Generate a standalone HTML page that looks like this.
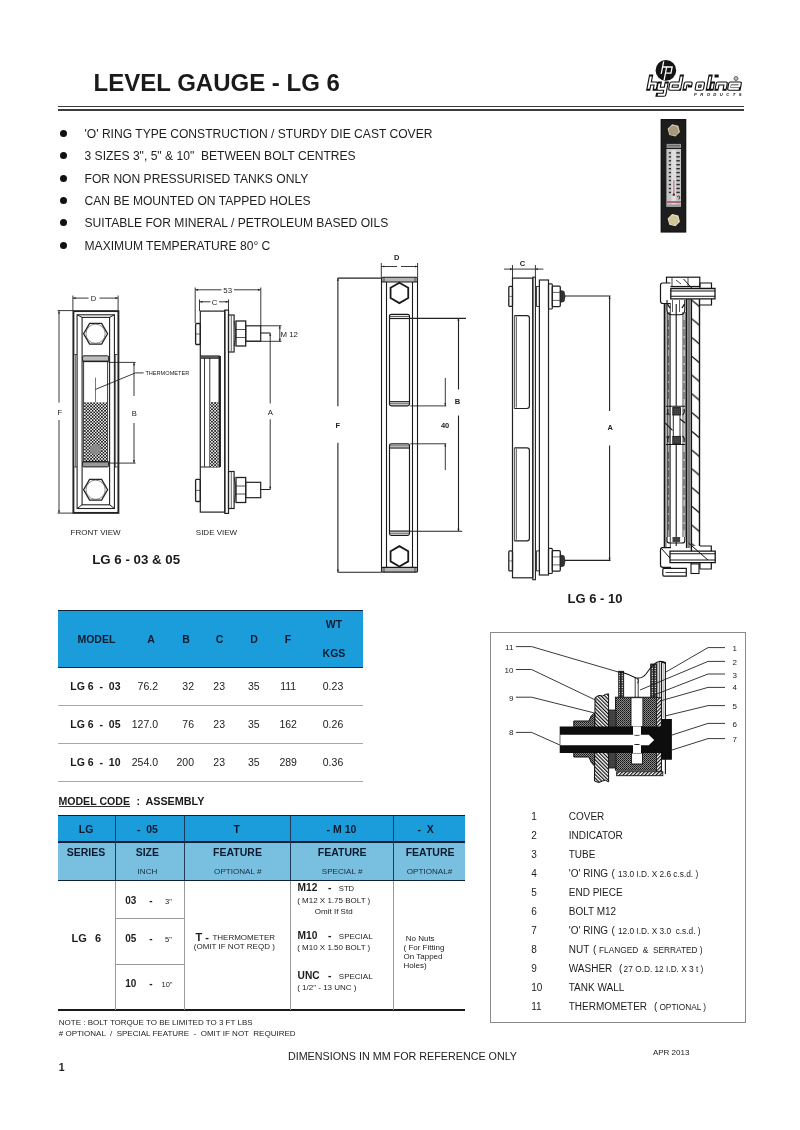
<!DOCTYPE html>
<html><head><meta charset="utf-8"><title>Level Gauge - LG 6</title>
<style>
html,body{margin:0;padding:0;background:#fff;}
#pg{position:relative;will-change:transform;width:800px;height:1130px;overflow:hidden;background:#fff;font-family:"Liberation Sans",sans-serif;}
.t{position:absolute;white-space:pre;font-family:"Liberation Sans",sans-serif;}
.r{position:absolute;}
svg{position:absolute;left:0;top:0;}
</style></head><body><div id="pg">
<div class="t" style="left:93.60px;top:70.98px;font-size:24px;line-height:24px;font-weight:700;color:#1a1a1a;">LEVEL GAUGE - LG 6</div>
<div class="r" style="left:57.80px;top:106.00px;width:686.20px;height:1.20px;background:#3c3c3c;"></div>
<div class="r" style="left:57.80px;top:109.00px;width:686.20px;height:2.00px;background:#3c3c3c;"></div>
<div class="r" style="left:60px;top:129.90px;width:7px;height:7px;border-radius:50%;background:#111"></div>
<div class="t" style="left:84.50px;top:127.76px;font-size:12.1px;line-height:12.1px;font-weight:400;color:#1e1e1e;">'O' RING TYPE CONSTRUCTION / STURDY DIE CAST COVER</div>
<div class="r" style="left:60px;top:152.28px;width:7px;height:7px;border-radius:50%;background:#111"></div>
<div class="t" style="left:84.50px;top:150.14px;font-size:12.1px;line-height:12.1px;font-weight:400;color:#1e1e1e;">3 SIZES 3", 5" &amp; 10"  BETWEEN BOLT CENTRES</div>
<div class="r" style="left:60px;top:174.66px;width:7px;height:7px;border-radius:50%;background:#111"></div>
<div class="t" style="left:84.50px;top:172.52px;font-size:12.1px;line-height:12.1px;font-weight:400;color:#1e1e1e;">FOR NON PRESSURISED TANKS ONLY</div>
<div class="r" style="left:60px;top:197.04px;width:7px;height:7px;border-radius:50%;background:#111"></div>
<div class="t" style="left:84.50px;top:194.90px;font-size:12.1px;line-height:12.1px;font-weight:400;color:#1e1e1e;">CAN BE MOUNTED ON TAPPED HOLES</div>
<div class="r" style="left:60px;top:219.42px;width:7px;height:7px;border-radius:50%;background:#111"></div>
<div class="t" style="left:84.50px;top:217.28px;font-size:12.1px;line-height:12.1px;font-weight:400;color:#1e1e1e;">SUITABLE FOR MINERAL / PETROLEUM BASED OILS</div>
<div class="r" style="left:60px;top:241.80px;width:7px;height:7px;border-radius:50%;background:#111"></div>
<div class="t" style="left:84.50px;top:239.66px;font-size:12.1px;line-height:12.1px;font-weight:400;color:#1e1e1e;">MAXIMUM TEMPERATURE 80° C</div>
<div class="t" style="left:70.60px;top:528.83px;font-size:8px;line-height:8px;font-weight:400;color:#222;">FRONT VIEW</div>
<div class="t" style="left:195.80px;top:529.23px;font-size:8px;line-height:8px;font-weight:400;color:#222;">SIDE VIEW</div>
<div class="t" style="left:92.20px;top:552.74px;font-size:13.3px;line-height:13.3px;font-weight:700;color:#1a1a1a;">LG 6 - 03 &amp; 05</div>
<div class="t" style="left:567.50px;top:591.50px;font-size:13px;line-height:13px;font-weight:700;color:#1a1a1a;">LG 6 - 10</div>
<div class="t" style="left:287.90px;top:1050.90px;font-size:10.75px;line-height:10.75px;font-weight:400;color:#222;">DIMENSIONS IN MM FOR REFERENCE ONLY</div>
<div class="t" style="left:652.90px;top:1048.53px;font-size:8px;line-height:8px;font-weight:400;color:#222;">APR 2013</div>
<div class="t" style="left:58.70px;top:1061.61px;font-size:10.5px;line-height:10.5px;font-weight:700;color:#222;">1</div>
<div class="r" style="left:58.00px;top:610.00px;width:305.00px;height:57.50px;background:#1c9ddb;"></div>
<div class="r" style="left:58.00px;top:609.50px;width:305.00px;height:1.50px;background:#10223a;"></div>
<div class="r" style="left:58.00px;top:666.50px;width:305.00px;height:1.50px;background:#10223a;"></div>
<div class="t" style="left:77.40px;top:633.51px;font-size:10.5px;line-height:10.5px;font-weight:700;color:#0c1a2e;">MODEL</div>
<div class="t" style="left:1.00px;width:300px;text-align:center;top:633.51px;font-size:10.5px;line-height:10.5px;font-weight:700;color:#0c1a2e;">A</div>
<div class="t" style="left:36.00px;width:300px;text-align:center;top:633.51px;font-size:10.5px;line-height:10.5px;font-weight:700;color:#0c1a2e;">B</div>
<div class="t" style="left:69.50px;width:300px;text-align:center;top:633.51px;font-size:10.5px;line-height:10.5px;font-weight:700;color:#0c1a2e;">C</div>
<div class="t" style="left:104.00px;width:300px;text-align:center;top:633.51px;font-size:10.5px;line-height:10.5px;font-weight:700;color:#0c1a2e;">D</div>
<div class="t" style="left:138.00px;width:300px;text-align:center;top:633.51px;font-size:10.5px;line-height:10.5px;font-weight:700;color:#0c1a2e;">F</div>
<div class="t" style="left:184.00px;width:300px;text-align:center;top:619.41px;font-size:10.5px;line-height:10.5px;font-weight:700;color:#0c1a2e;">WT</div>
<div class="t" style="left:184.00px;width:300px;text-align:center;top:647.81px;font-size:10.5px;line-height:10.5px;font-weight:700;color:#0c1a2e;">KGS</div>
<div class="t" style="left:70.30px;top:681.41px;font-size:10.5px;line-height:10.5px;font-weight:700;color:#1a1a1a;">LG 6  -  03</div>
<div class="t" style="left:-142.00px;width:300px;text-align:right;top:681.41px;font-size:10.5px;line-height:10.5px;font-weight:400;color:#222;">76.2</div>
<div class="t" style="left:-106.00px;width:300px;text-align:right;top:681.41px;font-size:10.5px;line-height:10.5px;font-weight:400;color:#222;">32</div>
<div class="t" style="left:69.20px;width:300px;text-align:center;top:681.41px;font-size:10.5px;line-height:10.5px;font-weight:400;color:#222;">23</div>
<div class="t" style="left:103.80px;width:300px;text-align:center;top:681.41px;font-size:10.5px;line-height:10.5px;font-weight:400;color:#222;">35</div>
<div class="t" style="left:138.20px;width:300px;text-align:center;top:681.41px;font-size:10.5px;line-height:10.5px;font-weight:400;color:#222;">111</div>
<div class="t" style="left:183.00px;width:300px;text-align:center;top:681.41px;font-size:10.5px;line-height:10.5px;font-weight:400;color:#222;">0.23</div>
<div class="r" style="left:58.00px;top:704.70px;width:305.00px;height:1.00px;background:#a8a8a8;"></div>
<div class="t" style="left:70.30px;top:719.41px;font-size:10.5px;line-height:10.5px;font-weight:700;color:#1a1a1a;">LG 6  -  05</div>
<div class="t" style="left:-142.00px;width:300px;text-align:right;top:719.41px;font-size:10.5px;line-height:10.5px;font-weight:400;color:#222;">127.0</div>
<div class="t" style="left:-106.00px;width:300px;text-align:right;top:719.41px;font-size:10.5px;line-height:10.5px;font-weight:400;color:#222;">76</div>
<div class="t" style="left:69.20px;width:300px;text-align:center;top:719.41px;font-size:10.5px;line-height:10.5px;font-weight:400;color:#222;">23</div>
<div class="t" style="left:103.80px;width:300px;text-align:center;top:719.41px;font-size:10.5px;line-height:10.5px;font-weight:400;color:#222;">35</div>
<div class="t" style="left:138.20px;width:300px;text-align:center;top:719.41px;font-size:10.5px;line-height:10.5px;font-weight:400;color:#222;">162</div>
<div class="t" style="left:183.00px;width:300px;text-align:center;top:719.41px;font-size:10.5px;line-height:10.5px;font-weight:400;color:#222;">0.26</div>
<div class="r" style="left:58.00px;top:742.70px;width:305.00px;height:1.00px;background:#a8a8a8;"></div>
<div class="t" style="left:70.30px;top:757.41px;font-size:10.5px;line-height:10.5px;font-weight:700;color:#1a1a1a;">LG 6  -  10</div>
<div class="t" style="left:-142.00px;width:300px;text-align:right;top:757.41px;font-size:10.5px;line-height:10.5px;font-weight:400;color:#222;">254.0</div>
<div class="t" style="left:-106.00px;width:300px;text-align:right;top:757.41px;font-size:10.5px;line-height:10.5px;font-weight:400;color:#222;">200</div>
<div class="t" style="left:69.20px;width:300px;text-align:center;top:757.41px;font-size:10.5px;line-height:10.5px;font-weight:400;color:#222;">23</div>
<div class="t" style="left:103.80px;width:300px;text-align:center;top:757.41px;font-size:10.5px;line-height:10.5px;font-weight:400;color:#222;">35</div>
<div class="t" style="left:138.20px;width:300px;text-align:center;top:757.41px;font-size:10.5px;line-height:10.5px;font-weight:400;color:#222;">289</div>
<div class="t" style="left:183.00px;width:300px;text-align:center;top:757.41px;font-size:10.5px;line-height:10.5px;font-weight:400;color:#222;">0.36</div>
<div class="r" style="left:58.00px;top:780.70px;width:305.00px;height:1.00px;background:#a8a8a8;"></div>
<div class="t" style="left:58.40px;top:796.03px;font-size:10.6px;line-height:10.6px;font-weight:700;color:#1a1a1a;">MODEL CODE</div>
<div class="t" style="left:136.60px;top:796.03px;font-size:10.6px;line-height:10.6px;font-weight:700;color:#1a1a1a;">:</div>
<div class="t" style="left:145.40px;top:795.86px;font-size:10.8px;line-height:10.8px;font-weight:700;color:#1a1a1a;">ASSEMBLY</div>
<div class="r" style="left:58.70px;top:806.40px;width:71.30px;height:1.00px;background:#333;"></div>
<div class="r" style="left:57.90px;top:815.50px;width:407.60px;height:26.50px;background:#1c9ddb;"></div>
<div class="r" style="left:57.90px;top:842.00px;width:407.60px;height:38.50px;background:#79bfe0;"></div>
<div class="r" style="left:57.90px;top:814.80px;width:407.60px;height:1.50px;background:#0e2036;"></div>
<div class="r" style="left:57.90px;top:841.40px;width:407.60px;height:1.50px;background:#0e2036;"></div>
<div class="r" style="left:57.90px;top:879.80px;width:407.60px;height:1.50px;background:#0e2036;"></div>
<div class="r" style="left:57.90px;top:1009.40px;width:407.60px;height:1.60px;background:#1a1a1a;"></div>
<div class="r" style="left:115.10px;top:816.00px;width:1.00px;height:64.00px;background:#1f3a5a;"></div>
<div class="r" style="left:115.10px;top:881.00px;width:1.00px;height:128.50px;background:#9a9a9a;"></div>
<div class="r" style="left:184.10px;top:816.00px;width:1.00px;height:64.00px;background:#1f3a5a;"></div>
<div class="r" style="left:184.10px;top:881.00px;width:1.00px;height:128.50px;background:#9a9a9a;"></div>
<div class="r" style="left:290.20px;top:816.00px;width:1.00px;height:64.00px;background:#1f3a5a;"></div>
<div class="r" style="left:290.20px;top:881.00px;width:1.00px;height:128.50px;background:#9a9a9a;"></div>
<div class="r" style="left:393.00px;top:816.00px;width:1.00px;height:64.00px;background:#1f3a5a;"></div>
<div class="r" style="left:393.00px;top:881.00px;width:1.00px;height:128.50px;background:#9a9a9a;"></div>
<div class="t" style="left:-63.90px;width:300px;text-align:center;top:824.31px;font-size:10.5px;line-height:10.5px;font-weight:700;color:#0c1a2e;">LG</div>
<div class="t" style="left:-2.60px;width:300px;text-align:center;top:824.31px;font-size:10.5px;line-height:10.5px;font-weight:700;color:#0c1a2e;">-  05</div>
<div class="t" style="left:86.60px;width:300px;text-align:center;top:824.31px;font-size:10.5px;line-height:10.5px;font-weight:700;color:#0c1a2e;">T</div>
<div class="t" style="left:191.50px;width:300px;text-align:center;top:824.31px;font-size:10.5px;line-height:10.5px;font-weight:700;color:#0c1a2e;">- M 10</div>
<div class="t" style="left:275.70px;width:300px;text-align:center;top:824.31px;font-size:10.5px;line-height:10.5px;font-weight:700;color:#0c1a2e;">-  X</div>
<div class="t" style="left:-64.00px;width:300px;text-align:center;top:846.91px;font-size:10.5px;line-height:10.5px;font-weight:700;color:#0c1a2e;">SERIES</div>
<div class="t" style="left:-2.70px;width:300px;text-align:center;top:846.91px;font-size:10.5px;line-height:10.5px;font-weight:700;color:#0c1a2e;">SIZE</div>
<div class="t" style="left:87.50px;width:300px;text-align:center;top:846.91px;font-size:10.5px;line-height:10.5px;font-weight:700;color:#0c1a2e;">FEATURE</div>
<div class="t" style="left:192.20px;width:300px;text-align:center;top:846.91px;font-size:10.5px;line-height:10.5px;font-weight:700;color:#0c1a2e;">FEATURE</div>
<div class="t" style="left:280.10px;width:300px;text-align:center;top:846.91px;font-size:10.5px;line-height:10.5px;font-weight:700;color:#0c1a2e;">FEATURE</div>
<div class="t" style="left:-2.50px;width:300px;text-align:center;top:867.94px;font-size:8.1px;line-height:8.1px;font-weight:400;color:#1a2a3a;">INCH</div>
<div class="t" style="left:87.80px;width:300px;text-align:center;top:867.94px;font-size:8.1px;line-height:8.1px;font-weight:400;color:#1a2a3a;">OPTIONAL #</div>
<div class="t" style="left:192.10px;width:300px;text-align:center;top:867.94px;font-size:8.1px;line-height:8.1px;font-weight:400;color:#1a2a3a;">SPECIAL #</div>
<div class="t" style="left:279.50px;width:300px;text-align:center;top:867.94px;font-size:8.1px;line-height:8.1px;font-weight:400;color:#1a2a3a;">OPTIONAL#</div>
<div class="r" style="left:115.60px;top:918.30px;width:69.00px;height:1.00px;background:#9a9a9a;"></div>
<div class="r" style="left:115.60px;top:964.00px;width:69.00px;height:1.00px;background:#9a9a9a;"></div>
<div class="t" style="left:71.50px;top:933.19px;font-size:11px;line-height:11px;font-weight:700;color:#1c1c1c;">LG</div>
<div class="t" style="left:95.00px;top:933.19px;font-size:11px;line-height:11px;font-weight:700;color:#1c1c1c;">6</div>
<div class="t" style="left:125.30px;top:895.53px;font-size:10px;line-height:10px;font-weight:700;color:#1c1c1c;">03</div>
<div class="t" style="left:149.30px;top:895.53px;font-size:10px;line-height:10px;font-weight:700;color:#1c1c1c;">-</div>
<div class="t" style="left:165.10px;top:897.65px;font-size:7.5px;line-height:7.5px;font-weight:400;color:#1c1c1c;">3"</div>
<div class="t" style="left:125.30px;top:933.74px;font-size:10px;line-height:10px;font-weight:700;color:#1c1c1c;">05</div>
<div class="t" style="left:149.30px;top:933.74px;font-size:10px;line-height:10px;font-weight:700;color:#1c1c1c;">-</div>
<div class="t" style="left:165.10px;top:935.85px;font-size:7.5px;line-height:7.5px;font-weight:400;color:#1c1c1c;">5"</div>
<div class="t" style="left:125.30px;top:978.93px;font-size:10px;line-height:10px;font-weight:700;color:#1c1c1c;">10</div>
<div class="t" style="left:149.30px;top:978.93px;font-size:10px;line-height:10px;font-weight:700;color:#1c1c1c;">-</div>
<div class="t" style="left:161.50px;top:981.05px;font-size:7.5px;line-height:7.5px;font-weight:400;color:#1c1c1c;">10"</div>
<div class="t" style="left:195.50px;top:931.79px;font-size:11px;line-height:11px;font-weight:700;color:#1c1c1c;">T -</div>
<div class="t" style="left:212.40px;top:934.33px;font-size:8px;line-height:8px;font-weight:400;color:#1c1c1c;">THERMOMETER</div>
<div class="t" style="left:193.80px;top:942.73px;font-size:8px;line-height:8px;font-weight:400;color:#1c1c1c;">(OMIT IF NOT REQD )</div>
<div class="t" style="left:297.60px;top:883.37px;font-size:10.2px;line-height:10.2px;font-weight:700;color:#1c1c1c;">M12</div>
<div class="t" style="left:328.00px;top:883.37px;font-size:10.2px;line-height:10.2px;font-weight:700;color:#1c1c1c;">-</div>
<div class="t" style="left:338.80px;top:885.48px;font-size:7.7px;line-height:7.7px;font-weight:400;color:#1c1c1c;">STD</div>
<div class="t" style="left:297.20px;top:897.23px;font-size:8px;line-height:8px;font-weight:400;color:#1c1c1c;">( M12 X 1.75 BOLT )</div>
<div class="t" style="left:314.80px;top:908.23px;font-size:8px;line-height:8px;font-weight:400;color:#1c1c1c;">Omit If Std</div>
<div class="t" style="left:297.60px;top:931.07px;font-size:10.2px;line-height:10.2px;font-weight:700;color:#1c1c1c;">M10</div>
<div class="t" style="left:328.00px;top:931.07px;font-size:10.2px;line-height:10.2px;font-weight:700;color:#1c1c1c;">-</div>
<div class="t" style="left:338.80px;top:933.03px;font-size:8px;line-height:8px;font-weight:400;color:#1c1c1c;">SPECIAL</div>
<div class="t" style="left:297.20px;top:944.43px;font-size:8px;line-height:8px;font-weight:400;color:#1c1c1c;">( M10 X 1.50 BOLT )</div>
<div class="t" style="left:297.60px;top:970.97px;font-size:10.2px;line-height:10.2px;font-weight:700;color:#1c1c1c;">UNC</div>
<div class="t" style="left:328.00px;top:970.97px;font-size:10.2px;line-height:10.2px;font-weight:700;color:#1c1c1c;">-</div>
<div class="t" style="left:338.80px;top:973.23px;font-size:8px;line-height:8px;font-weight:400;color:#1c1c1c;">SPECIAL</div>
<div class="t" style="left:297.20px;top:984.23px;font-size:8px;line-height:8px;font-weight:400;color:#1c1c1c;">( 1/2" - 13 UNC )</div>
<div class="t" style="left:403.50px;top:935.23px;font-size:8px;line-height:8px;font-weight:400;color:#1c1c1c;"> No Nuts</div>
<div class="t" style="left:403.50px;top:944.23px;font-size:8px;line-height:8px;font-weight:400;color:#1c1c1c;">( For Fitting</div>
<div class="t" style="left:403.50px;top:953.23px;font-size:8px;line-height:8px;font-weight:400;color:#1c1c1c;">On Tapped</div>
<div class="t" style="left:403.50px;top:962.23px;font-size:8px;line-height:8px;font-weight:400;color:#1c1c1c;">Holes)</div>
<div class="t" style="left:58.75px;top:1018.53px;font-size:8px;line-height:8px;font-weight:400;color:#1c1c1c;">NOTE : BOLT TORQUE TO BE LIMITED TO 3 FT LBS</div>
<div class="t" style="left:58.75px;top:1030.13px;font-size:8px;line-height:8px;font-weight:400;color:#1c1c1c;"># OPTIONAL  /  SPECIAL FEATURE  -  OMIT IF NOT  REQUIRED</div>
<div class="r" style="left:489.7px;top:632.2px;width:254px;height:388.5px;border:1px solid #8a8a8a;"></div>
<div class="t" style="left:531.20px;top:811.63px;font-size:10px;line-height:10px;font-weight:400;color:#1c1c1c;">1</div>
<div class="t" style="left:568.75px;top:811.63px;font-size:10px;line-height:10px;font-weight:400;color:#1c1c1c;">COVER</div>
<div class="t" style="left:531.20px;top:830.66px;font-size:10px;line-height:10px;font-weight:400;color:#1c1c1c;">2</div>
<div class="t" style="left:568.75px;top:830.66px;font-size:10px;line-height:10px;font-weight:400;color:#1c1c1c;">INDICATOR</div>
<div class="t" style="left:531.20px;top:849.70px;font-size:10px;line-height:10px;font-weight:400;color:#1c1c1c;">3</div>
<div class="t" style="left:568.75px;top:849.70px;font-size:10px;line-height:10px;font-weight:400;color:#1c1c1c;">TUBE</div>
<div class="t" style="left:531.20px;top:868.73px;font-size:10px;line-height:10px;font-weight:400;color:#1c1c1c;">4</div>
<div class="t" style="left:568.75px;top:868.73px;font-size:10px;line-height:10px;font-weight:400;color:#1c1c1c;">'O' RING</div>
<div class="t" style="left:611.60px;top:868.73px;font-size:10px;line-height:10px;font-weight:400;color:#1c1c1c;">(</div>
<div class="t" style="left:618.00px;top:870.16px;font-size:8.3px;line-height:8.3px;font-weight:400;color:#1c1c1c;">13.0 I.D. X 2.6 c.s.d. )</div>
<div class="t" style="left:531.20px;top:887.75px;font-size:10px;line-height:10px;font-weight:400;color:#1c1c1c;">5</div>
<div class="t" style="left:568.75px;top:887.75px;font-size:10px;line-height:10px;font-weight:400;color:#1c1c1c;">END PIECE</div>
<div class="t" style="left:531.20px;top:906.78px;font-size:10px;line-height:10px;font-weight:400;color:#1c1c1c;">6</div>
<div class="t" style="left:568.75px;top:906.78px;font-size:10px;line-height:10px;font-weight:400;color:#1c1c1c;">BOLT M12</div>
<div class="t" style="left:531.20px;top:925.81px;font-size:10px;line-height:10px;font-weight:400;color:#1c1c1c;">7</div>
<div class="t" style="left:568.75px;top:925.81px;font-size:10px;line-height:10px;font-weight:400;color:#1c1c1c;">'O' RING</div>
<div class="t" style="left:611.60px;top:925.81px;font-size:10px;line-height:10px;font-weight:400;color:#1c1c1c;">(</div>
<div class="t" style="left:618.00px;top:927.25px;font-size:8.3px;line-height:8.3px;font-weight:400;color:#1c1c1c;">12.0 I.D. X 3.0  c.s.d. )</div>
<div class="t" style="left:531.20px;top:944.85px;font-size:10px;line-height:10px;font-weight:400;color:#1c1c1c;">8</div>
<div class="t" style="left:568.75px;top:944.85px;font-size:10px;line-height:10px;font-weight:400;color:#1c1c1c;">NUT</div>
<div class="t" style="left:593.00px;top:944.85px;font-size:10px;line-height:10px;font-weight:400;color:#1c1c1c;">(</div>
<div class="t" style="left:599.00px;top:946.28px;font-size:8.3px;line-height:8.3px;font-weight:400;color:#1c1c1c;">FLANGED  &amp;  SERRATED )</div>
<div class="t" style="left:531.20px;top:963.88px;font-size:10px;line-height:10px;font-weight:400;color:#1c1c1c;">9</div>
<div class="t" style="left:568.75px;top:963.88px;font-size:10px;line-height:10px;font-weight:400;color:#1c1c1c;">WASHER</div>
<div class="t" style="left:619.00px;top:963.88px;font-size:10px;line-height:10px;font-weight:400;color:#1c1c1c;">(</div>
<div class="t" style="left:623.60px;top:965.31px;font-size:8.3px;line-height:8.3px;font-weight:400;color:#1c1c1c;">27 O.D. 12 I.D. X 3 t )</div>
<div class="t" style="left:531.20px;top:982.90px;font-size:10px;line-height:10px;font-weight:400;color:#1c1c1c;">10</div>
<div class="t" style="left:568.75px;top:982.90px;font-size:10px;line-height:10px;font-weight:400;color:#1c1c1c;">TANK WALL</div>
<div class="t" style="left:531.20px;top:1001.94px;font-size:10px;line-height:10px;font-weight:400;color:#1c1c1c;">11</div>
<div class="t" style="left:568.75px;top:1001.94px;font-size:10px;line-height:10px;font-weight:400;color:#1c1c1c;">THERMOMETER</div>
<div class="t" style="left:654.00px;top:1001.94px;font-size:10px;line-height:10px;font-weight:400;color:#1c1c1c;">(</div>
<div class="t" style="left:659.40px;top:1003.37px;font-size:8.3px;line-height:8.3px;font-weight:400;color:#1c1c1c;">OPTIONAL )</div>
<svg width="800" height="1130" viewBox="0 0 800 1130" font-family="Liberation Sans"><defs>
<pattern id="dots" x="84.1" y="402.3" width="3.1" height="3.1" patternUnits="userSpaceOnUse"><rect width="3.1" height="3.1" fill="#f4f4f4"/><rect width="1.55" height="1.55" fill="#151515"/><rect x="1.55" y="1.55" width="1.55" height="1.55" fill="#151515"/></pattern>
<pattern id="dots2" width="2" height="2" patternUnits="userSpaceOnUse"><rect width="2" height="2" fill="#8a8a8a"/><rect x="0" y="0" width="1" height="1" fill="#111"/><rect x="1" y="1" width="1" height="1" fill="#333"/></pattern><pattern id="tube" width="3" height="2.4" patternUnits="userSpaceOnUse"><rect width="3" height="2.4" fill="#222"/><rect x="0.7" y="0.6" width="1.3" height="1.1" fill="#eee"/></pattern>
<pattern id="grid" width="2" height="2" patternUnits="userSpaceOnUse"><rect width="2" height="2" fill="#1a1a1a"/><rect x="0.6" y="0.6" width="0.9" height="0.9" fill="#ddd"/></pattern>
<pattern id="hatch" x="691.4" y="318.5" width="8.1" height="18.75" patternUnits="userSpaceOnUse"><path d="M0,0 L8.1,6.8" stroke="#151515" stroke-width="1.3"/></pattern>
<pattern id="hatchL" width="2.6" height="2.6" patternUnits="userSpaceOnUse" patternTransform="rotate(-45)"><rect width="2.6" height="2.6" fill="#fff"/><rect width="1.2" height="2.6" fill="#111"/></pattern><pattern id="hatchR" width="2.6" height="2.6" patternUnits="userSpaceOnUse" patternTransform="rotate(45)"><rect width="2.6" height="2.6" fill="#fff"/><rect width="1.2" height="2.6" fill="#111"/></pattern>
</defs><g fill="none" stroke="#222">
<rect x="73.4" y="311.1" width="45.0" height="201.8" stroke-width="1.9"/>
<rect x="77.1" y="314.8" width="37.3" height="193.7" stroke-width="1.1"/>
<rect x="82.1" y="317.4" width="27.5" height="187.4" stroke-width="1.1"/>
<path d="M77.1,314.8 L82.1,317.4 M114.4,314.8 L109.6,317.4 M77.1,508.5 L82.1,504.8 M114.4,508.5 L109.6,504.8" stroke-width="1"/>
<path d="M75.6,354.5 V467 M115.6,354.5 V467" stroke-width="0.7" stroke="#333"/>
<path d="M74.4,354.5 H77 M114.4,354.5 H117.5 M74.4,467 H77 M114.4,467 H117.5" stroke-width="0.8"/>
<polygon points="107.60,333.75 101.60,344.14 89.60,344.14 83.60,333.75 89.60,323.36 101.60,323.36" stroke-width="1.3"/>
<circle cx="95.6" cy="333.75" r="9.6" stroke-width="0.7" stroke="#555"/>
<polygon points="107.60,489.75 101.60,500.14 89.60,500.14 83.60,489.75 89.60,479.36 101.60,479.36" stroke-width="1.3"/>
<circle cx="95.6" cy="489.75" r="9.6" stroke-width="0.7" stroke="#555"/>
<path d="M83.6,361.5 V462 M107.6,361.5 V462" stroke-width="0.9"/>
<rect x="82.6" y="355.8" width="26.0" height="5.6" rx="1.2" fill="#bdbdbd" stroke-width="1.0"/>
<path d="M82.6,361.4 H108.6" stroke-width="1.5"/>
<rect x="84.1" y="402.3" width="23.0" height="59.7" fill="url(#dots)" stroke="none"/>
<rect x="82.6" y="461.4" width="26.0" height="5.5" rx="1.2" fill="#9a9a9a" stroke-width="1.0"/>
<path d="M82.6,461.8 H108.6" stroke-width="1.3"/>
<circle cx="95.6" cy="449.4" r="5.6" fill="#8a8a8a" stroke="none"/>
<path d="M95.5,377.7 V402" stroke-width="0.8" stroke="#555"/>
<path d="M95.5,389.4 L135.4,372.9 H143.6" stroke-width="0.9"/>
</g>
<text x="145.4" y="375.0" font-size="5.6" font-weight="400" text-anchor="start" fill="#222" stroke="none">THERMOMETER</text>
<g stroke="#222" fill="none" stroke-width="0.9">
<path d="M72.9,298.1 H88.5 M99.5,298.1 H118.1"/>
<path d="M72.9,295.5 V310 M118.1,295.5 V310"/>
<path d="M59,310.6 V402.5 M59,420 V513.1 M57.6,310.6 H73 M57.6,513.1 H73"/>
<path d="M134,362.4 V396 M134,423 V463.1 M108.6,362.4 H135.6 M108.6,463.1 H135.6"/>
</g>
<path d="M73.4,298.1 L75.60000000000001,297.0 L75.60000000000001,299.20000000000005 Z" fill="#222" stroke="none"/>
<path d="M117.6,298.1 L115.39999999999999,297.0 L115.39999999999999,299.20000000000005 Z" fill="#222" stroke="none"/>
<path d="M59,311.2 L57.9,313.4 L60.1,313.4 Z" fill="#222" stroke="none"/>
<path d="M59,512.6 L57.9,510.40000000000003 L60.1,510.40000000000003 Z" fill="#222" stroke="none"/>
<path d="M134,363 L132.9,365.2 L135.1,365.2 Z" fill="#222" stroke="none"/>
<path d="M134,462.5 L132.9,460.3 L135.1,460.3 Z" fill="#222" stroke="none"/>
<text x="93.6" y="301.1" font-size="7.6" font-weight="400" text-anchor="middle" fill="#222" stroke="none">D</text>
<text x="59.8" y="414.9" font-size="7.6" font-weight="400" text-anchor="middle" fill="#222" stroke="none">F</text>
<text x="134.4" y="416.3" font-size="7.6" font-weight="400" text-anchor="middle" fill="#222" stroke="none">B</text>
<g fill="none" stroke="#222">
<rect x="200.3" y="311.1" width="24.5" height="201.0" stroke-width="1.2"/>
<rect x="224.8" y="310.1" width="3.7" height="203.3" stroke-width="1.2"/>
<path d="M200.3,356.2 H219.4 V467 H200.3" stroke-width="1.2"/>
<rect x="200.8" y="355.7" width="18.5" height="3.3" fill="#555" stroke="none"/>
<path d="M204.5,358 V467 M209.8,358 V467" stroke-width="0.9"/>
<path d="M219.3,356 V467 M220.3,356 V467" stroke-width="1.3"/>
<rect x="210.2" y="402.0" width="8.2" height="65" fill="url(#dots)" stroke="none"/>
<rect x="195.6" y="323.5" width="4.7" height="21.0" rx="1" stroke-width="1.3"/>
<path d="M196,334.0 H200.3" stroke-width="0.7"/>
<rect x="195.6" y="479.3" width="4.7" height="22.19999999999999" rx="1" stroke-width="1.3"/>
<path d="M196,490.4 H200.3" stroke-width="0.7"/>
<rect x="228.5" y="315.0" width="5.6" height="37" stroke-width="1.2"/>
<path d="M231.3,315.5 V351.5" stroke-width="0.7"/>
<path d="M234.1,321.0 Q237.5,333.5 234.1,346.0" stroke-width="0.9"/>
<rect x="236.0" y="321.0" width="9.7" height="25" stroke-width="1.3"/>
<path d="M236,329.5 H245.7 M236,337.5 H245.7" stroke-width="0.8"/>
<rect x="245.7" y="325.8" width="15" height="15.4" stroke-width="1.2"/>
<rect x="228.5" y="471.5" width="5.6" height="37" stroke-width="1.2"/>
<path d="M231.3,472.0 V508.0" stroke-width="0.7"/>
<path d="M234.1,477.5 Q237.5,490.0 234.1,502.5" stroke-width="0.9"/>
<rect x="236.0" y="477.5" width="9.7" height="25" stroke-width="1.3"/>
<path d="M236,486.0 H245.7 M236,494.0 H245.7" stroke-width="0.8"/>
<rect x="245.7" y="482.3" width="15" height="15.4" stroke-width="1.2"/>
<path d="M260.7,333 H270.3" stroke-width="1.1"/>
<path d="M260.7,489.5 H270.3" stroke-width="1"/>
</g>
<g stroke="#222" fill="none" stroke-width="0.9">
<path d="M195.2,289.8 H221.5 M234,289.8 H260.8 M195.2,287.5 V323 M260.8,287.5 V325.8"/>
<path d="M199.5,301.8 H210.5 M219,301.8 H228.5 M199.5,299.5 V311 M228.5,299.5 V310"/>
<path d="M260.8,325.8 H281.5 M245.7,341.3 H281.5 M279.8,325.8 V341.5"/>
<path d="M270.2,333 V403.5 M270.2,419.3 V489.5"/>
</g>
<path d="M195.8,289.8 L198.0,288.7 L198.0,290.90000000000003 Z" fill="#222" stroke="none"/>
<path d="M260.2,289.8 L258.0,288.7 L258.0,290.90000000000003 Z" fill="#222" stroke="none"/>
<path d="M200.1,301.8 L202.29999999999998,300.7 L202.29999999999998,302.90000000000003 Z" fill="#222" stroke="none"/>
<path d="M227.9,301.8 L225.70000000000002,300.7 L225.70000000000002,302.90000000000003 Z" fill="#222" stroke="none"/>
<path d="M279.8,326.3 L278.7,328.5 L280.90000000000003,328.5 Z" fill="#222" stroke="none"/>
<path d="M279.8,341.0 L278.7,338.8 L280.90000000000003,338.8 Z" fill="#222" stroke="none"/>
<path d="M270.2,333.5 L269.09999999999997,335.7 L271.3,335.7 Z" fill="#222" stroke="none"/>
<path d="M270.2,489.0 L269.09999999999997,486.8 L271.3,486.8 Z" fill="#222" stroke="none"/>
<text x="227.7" y="292.8" font-size="7.8" font-weight="400" text-anchor="middle" fill="#222" stroke="none">53</text>
<text x="214.6" y="305.0" font-size="7.8" font-weight="400" text-anchor="middle" fill="#222" stroke="none">C</text>
<text x="280.6" y="336.8" font-size="7.8" font-weight="400" text-anchor="start" fill="#222" stroke="none">M 12</text>
<text x="270.4" y="414.8" font-size="7.8" font-weight="400" text-anchor="middle" fill="#222" stroke="none">A</text><g fill="none" stroke="#1a1a1a">
<path d="M381.5,277.5 V572 M417.5,277.5 V572" stroke-width="1.1"/>
<path d="M386.5,281.5 V568 M412.5,281.5 V568" stroke-width="1.1"/>
<rect x="381.6" y="277.3" width="35.8" height="4.7" rx="1.2" fill="#b5b5b5" stroke-width="1.1"/>
<path d="M384,277.3 V282.0 M415,277.3 V282.0" stroke-width="0.7"/>
<rect x="381.6" y="567.4" width="35.8" height="4.7" rx="1.2" fill="#b5b5b5" stroke-width="1.1"/>
<path d="M384,567.4 V572.1 M415,567.4 V572.1" stroke-width="0.7"/>
<polygon points="399.40,303.10 390.57,298.00 390.57,287.80 399.40,282.70 408.23,287.80 408.23,298.00" stroke-width="1.8"/>
<polygon points="399.40,566.50 390.57,561.40 390.57,551.20 399.40,546.10 408.23,551.20 408.23,561.40" stroke-width="1.8"/>
<rect x="389.5" y="314.3" width="20" height="91.6" rx="1.8" stroke-width="1.15"/>
<path d="M389.5,316.4 H409.5" stroke-width="0.8"/>
<path d="M389.5,318.5 H409.5" stroke-width="1.2"/>
<path d="M389.5,403.8 H409.5" stroke-width="0.8"/>
<path d="M389.5,401.7 H409.5" stroke-width="1.2"/>
<rect x="389.5" y="443.8" width="20" height="91.5" rx="1.8" stroke-width="1.15"/>
<path d="M389.5,445.9 H409.5" stroke-width="0.8"/>
<path d="M389.5,448.0 H409.5" stroke-width="1.2"/>
<path d="M389.5,533.2 H409.5" stroke-width="0.8"/>
<path d="M389.5,531.1 H409.5" stroke-width="1.2"/>
</g>
<g stroke="#222" fill="none" stroke-width="0.9">
<path d="M381.3,266.5 H397 M401,266.5 H417.8 M381.3,263 V277 M417.6,263 V277"/>
<path d="M337.9,278.1 V406.2 M337.9,442.8 V572.2 M337.5,278.1 H381.6 M337.5,572.2 H381.6" stroke-width="1.1"/>
<path d="M458.5,318.4 V389.4 M458.5,415.6 V531.3 M410,318.4 H466 M410,531.3 H462.2" stroke-width="1.1"/>
<path d="M445.3,378 V405.9 M445.3,443.8 V470 M410.3,405.9 H446.3 M410.3,443.8 H446.3"/>
</g>
<path d="M382,266.5 L384.2,265.4 L384.2,267.6 Z" fill="#222" stroke="none"/>
<path d="M417.2,266.5 L415.0,265.4 L415.0,267.6 Z" fill="#222" stroke="none"/>
<path d="M337.9,278.6 L336.79999999999995,280.8 L339.0,280.8 Z" fill="#222" stroke="none"/>
<path d="M337.9,571.7 L336.79999999999995,569.5 L339.0,569.5 Z" fill="#222" stroke="none"/>
<path d="M458.4,318.4 L457.29999999999995,320.59999999999997 L459.5,320.59999999999997 Z" fill="#222" stroke="none"/>
<path d="M458.4,531 L457.29999999999995,528.8 L459.5,528.8 Z" fill="#222" stroke="none"/>
<path d="M445.3,405.5 L444.2,403.3 L446.40000000000003,403.3 Z" fill="#222" stroke="none"/>
<path d="M445.3,444.2 L444.2,446.4 L446.40000000000003,446.4 Z" fill="#222" stroke="none"/>
<text x="396.6" y="259.8" font-size="7.5" font-weight="700" text-anchor="middle" fill="#222" stroke="none">D</text>
<text x="337.9" y="428.4" font-size="7.5" font-weight="700" text-anchor="middle" fill="#222" stroke="none">F</text>
<text x="457.5" y="404.0" font-size="7.5" font-weight="700" text-anchor="middle" fill="#222" stroke="none">B</text>
<text x="445.1" y="428.4" font-size="7.5" font-weight="700" text-anchor="middle" fill="#222" stroke="none">40</text>
<g fill="none" stroke="#222">
<rect x="512.5" y="278.1" width="20.3" height="299.7" stroke-width="1.2"/>
<rect x="532.8" y="277.2" width="2.6" height="302.5" stroke-width="1.1"/>
<rect x="539.4" y="280" width="9.1" height="295" stroke-width="1.2"/>
<rect x="536.6" y="286.4" width="2.8" height="20" stroke-width="0.9"/>
<rect x="508.8" y="286.4" width="3.7" height="20" rx="1" stroke-width="1.3"/>
<path d="M509.5,296.4 H512.5" stroke-width="0.6"/>
<rect x="548.5" y="283.8" width="3.8" height="25.2" rx="1" stroke-width="1.2"/>
<rect x="552.3" y="286.2" width="8.0" height="20.4" rx="1" stroke-width="1.3"/>
<path d="M552.3,292.4 H560.3 M552.3,300.4 H560.3" stroke-width="0.7"/>
<path d="M560.3,290.4 L564,291.4 L565,296.4 L564,301.4 L560.3,302.4 Z" fill="#333" stroke-width="0.8"/>
<rect x="536.6" y="550.9" width="2.8" height="20" stroke-width="0.9"/>
<rect x="508.8" y="550.9" width="3.7" height="20" rx="1" stroke-width="1.3"/>
<path d="M509.5,560.9 H512.5" stroke-width="0.6"/>
<rect x="548.5" y="548.3" width="3.8" height="25.2" rx="1" stroke-width="1.2"/>
<rect x="552.3" y="550.7" width="8.0" height="20.4" rx="1" stroke-width="1.3"/>
<path d="M552.3,556.9 H560.3 M552.3,564.9 H560.3" stroke-width="0.7"/>
<path d="M560.3,554.9 L564,555.9 L565,560.9 L564,565.9 L560.3,566.9 Z" fill="#333" stroke-width="0.8"/>
<path d="M514.4,315.6 H527 Q529.4,315.6 529.4,318.0 V406.1 Q529.4,408.5 527,408.5 H514.4" stroke-width="1.2"/>
<path d="M514.4,315.6 V408.5 M516.3,316.6 V407.5" stroke-width="0.8"/>
<path d="M514.4,447.9 H527 Q529.4,447.9 529.4,450.29999999999995 V538.5 Q529.4,540.9 527,540.9 H514.4" stroke-width="1.2"/>
<path d="M514.4,447.9 V540.9 M516.3,448.9 V539.9" stroke-width="0.8"/>
</g>
<g stroke="#222" fill="none" stroke-width="0.9">
<path d="M504,269.1 H543.4 M512.5,265 V278 M535.4,265 V277"/>
<path d="M565,296 H610.5 M565,560.4 H610.5 M609.6,296 V411 M609.6,445.6 V560.4" stroke-width="1.1"/>
</g>
<path d="M512.3,269.1 L510.09999999999997,268.0 L510.09999999999997,270.20000000000005 Z" fill="#222" stroke="none"/>
<path d="M535.6,269.1 L537.8000000000001,268.0 L537.8000000000001,270.20000000000005 Z" fill="#222" stroke="none"/>
<path d="M609.6,296.5 L608.5,298.7 L610.7,298.7 Z" fill="#222" stroke="none"/>
<path d="M609.6,559.9 L608.5,557.6999999999999 L610.7,557.6999999999999 Z" fill="#222" stroke="none"/>
<text x="522.4" y="266.0" font-size="7.5" font-weight="700" text-anchor="middle" fill="#222" stroke="none">C</text>
<text x="610.3" y="430.3" font-size="7.5" font-weight="700" text-anchor="middle" fill="#222" stroke="none">A</text>
<g fill="none" stroke="#151515">
<path d="M664.4,303 V548 M691.4,299 V564 M699.5,299 V546 M686.6,299 V548" stroke-width="1.4"/>
<path d="M665.9,303 V548 M667.6,312 V537 M669.1,312 V537 M670.3,303 V548 M683,312 V537 M685.2,312 V537 M688.2,299 V548 M689.8,299 V548" stroke-width="0.8"/>
<path d="M676.2,304 V406 M676.2,445 V546" stroke-width="1.1"/>
<path d="M668.35,320 V350 M668.35,356 V400 M668.35,452 V500 M668.35,506 V530 M684.1,320 V350 M684.1,356 V400 M684.1,452 V500 M684.1,506 V530" stroke-width="0.6" stroke-dasharray="7 2"/>
<rect x="691.4" y="299" width="8.1" height="247" fill="url(#hatch)" stroke="none"/>
<rect x="666.5" y="277.2" width="33.3" height="9.3" stroke-width="1.2"/>
<path d="M672,277.5 V286 M688,277.5 V286 M676,280 L681,284" stroke-width="0.8"/>
<path d="M683.5,279 L699.8,297" stroke-width="1"/>
<path d="M670.5,283 H662.5 Q660.5,283 660.5,285.5 V301 Q660.5,303.5 663,303.5 H670.5" fill="#fff" stroke-width="1.2"/>
<path d="M670.8,288.5 H715 V298.8 H670.8 Z" fill="#fff" stroke-width="1.3"/>
<path d="M670.8,291 H715 M670.8,296.2 H715" stroke-width="1.1"/>
<path d="M699.8,283 H711.5 V288.5 M699.8,305 H711.5 V298.8 M699.8,283 V288.5" stroke-width="1.2"/>
<path d="M667,300 V309.5 Q667,314.8 672.5,314.8 H679.5 Q684.8,314.8 684.8,309.5 V300" stroke-width="1.1"/>
<path d="M672.5,300 V312 M679.5,300 V312" stroke-width="0.7"/>
<path d="M667.5,304 L670,308 M684.5,304 L682,308" stroke-width="1.4"/>
<path d="M665.9,406.2 H685.2 M665.9,444.5 H685.2" stroke-width="1.1"/>
<rect x="672.8" y="407.6" width="7.6" height="7.4" fill="url(#grid)" stroke-width="0.9"/>
<rect x="672.8" y="436.4" width="7.6" height="7.4" fill="url(#grid)" stroke-width="0.9"/>
<path d="M668,409 Q667,413 669.5,415 M684,409 Q685,413 682.5,415 M668,442 Q667,438 669.5,436 M684,442 Q685,438 682.5,436" stroke-width="1.2"/>
<path d="M673.3,415 V436.4 M680,415 V436.4" stroke-width="0.9"/>
<path d="M665.4,423.1 L672.5,430.3 M680,419 L685.2,423" stroke-width="1.1"/>
<path d="M666,414 H668 M666,437 H668" stroke-width="0.8"/>
<path d="M671,547.7 H662.5 Q660.5,547.7 660.5,550 V565 Q660.5,567.4 663,567.4 H671" fill="#fff" stroke-width="1.2"/>
<path d="M661,548 L672.7,561" stroke-width="1"/>
<path d="M670,551.2 H715.2 V562.6 H670 Z" fill="#fff" stroke-width="1.3"/>
<path d="M670,553.8 H715.2 M670,560 H715.2" stroke-width="1.1"/>
<path d="M699.9,546 H711.3 V551.2 M699.9,569 H711.3 V562.6 M699.9,562.6 V569" stroke-width="1.2"/>
<path d="M688.5,543 L708,560" stroke-width="1"/>
<rect x="691" y="563.9" width="8" height="9.6" fill="#fff" stroke-width="1.1"/>
<path d="M664,568.3 H686.3 V576.1 H664 Q662.8,576.1 662.8,574.5 V570 Q662.8,568.3 664,568.3 Z" fill="#fff" stroke-width="1.2"/>
<path d="M665.5,572.5 H686" stroke-width="0.8"/>
<path d="M667,537 V541 Q667,543 670,543 H682 Q684.8,543 684.8,541 V537" stroke-width="1.1"/>
<rect x="672.5" y="537" width="7.6" height="5" fill="url(#grid)" stroke="none"/>
</g><g stroke="#111" fill="none">
<path d="M661.4,774 V663 Q663.5,661.5 665.4,662.5 V774" fill="#fff" stroke-width="1.1"/>
<path d="M663.2,663 V718" stroke-width="0.6" stroke="#555"/>
<rect x="650.7" y="664" width="5.7" height="52" fill="url(#tube)" stroke-width="0.8"/>
<path d="M657,662.5 V716 M659.3,662 V716" stroke-width="0.8"/>
<rect x="618.7" y="671.3" width="5" height="44.5" fill="url(#tube)" stroke-width="0.8"/>
<path d="M618.7,671.3 Q628,674 636,678 Q642,679 646,674 Q654,662 659,661.5 Q663,661 665.4,663.5" stroke-width="1.1"/>
<path d="M635.2,677.5 V697 M638.2,679 V697" stroke-width="0.8"/>
<path d="M637,679 q1.5,0 1.5,2 q0,2 -1.5,2" stroke-width="0.7"/>
<rect x="615.5" y="697.2" width="42" height="73" fill="url(#dots2)" stroke-width="0.9"/>
<rect x="631" y="697.7" width="11.9" height="29" fill="#fff" stroke-width="0.9"/>
<rect x="631.6" y="753" width="10.9" height="11" fill="#fff" stroke-width="0.9"/>
<rect x="656.4" y="697.7" width="5" height="76.3" fill="url(#hatchR)" stroke-width="0.9"/>
<rect x="608.5" y="710" width="7.5" height="58" fill="url(#grid)" stroke-width="0.8"/>
<path d="M573.8,721 H589 Q590.5,715 594.5,713 V766 Q590.5,763 589,757 H573.8 Z" fill="url(#dots2)" stroke-width="1"/>
<path d="M595,697.7 Q599,694 602.5,696 Q605,694 608.6,693.8 V781.9 Q605,779 602.5,781 Q599,784 594.5,781 Z" fill="url(#hatchL)" stroke-width="1"/>
<rect x="616.7" y="771.7" width="46.1" height="4" fill="url(#hatchR)" stroke-width="0.9"/>
<path d="M559.7,726.4 H661.3 V719 H671.9 V759.7 H661.3 V753 H559.7 Z" fill="#0d0d0d" stroke="none"/>
<path d="M560.3,734.7 H633 Q637,737 641,734.7 H648.7 L654.2,739.9 L648.7,745.2 H641 Q637,743 633,745.2 H560.3 Z" fill="#fff" stroke="none"/>
<rect x="633" y="726.4" width="8" height="8.5" fill="#fff" stroke="none"/>
<rect x="633" y="745" width="8" height="8" fill="#fff" stroke="none"/>
</g>
<g stroke="#222" fill="none" stroke-width="0.9">
<path d="M515.9,646.6 H531.6 L620,672.5"/>
<path d="M515.9,669.5 H531.6 L596.4,700.5"/>
<path d="M515.9,697.2 H531.6 L593.8,712.8"/>
<path d="M515.9,732.4 H531.6 L559.8,745"/>
<path d="M725,647.6 H708 L666,672"/>
<path d="M725,661.4 H708 L640,690"/>
<path d="M725,674 H708 L654,695"/>
<path d="M725,687.4 H708 L660,701"/>
<path d="M725,705.6 H708 L665,716"/>
<path d="M725,723.4 H708 L672,735"/>
<path d="M725,738.6 H708 L672,750"/>
</g>
<text x="513.4" y="650.3" font-size="8" font-weight="400" text-anchor="end" fill="#222" stroke="none">11</text>
<text x="513.4" y="673.4" font-size="8" font-weight="400" text-anchor="end" fill="#222" stroke="none">10</text>
<text x="513.4" y="701.1" font-size="8" font-weight="400" text-anchor="end" fill="#222" stroke="none">9</text>
<text x="513.4" y="735.3" font-size="8" font-weight="400" text-anchor="end" fill="#222" stroke="none">8</text>
<text x="732.4" y="651.3" font-size="8" font-weight="400" text-anchor="start" fill="#222" stroke="none">1</text>
<text x="732.4" y="664.7" font-size="8" font-weight="400" text-anchor="start" fill="#222" stroke="none">2</text>
<text x="732.4" y="677.7" font-size="8" font-weight="400" text-anchor="start" fill="#222" stroke="none">3</text>
<text x="732.4" y="690.3" font-size="8" font-weight="400" text-anchor="start" fill="#222" stroke="none">4</text>
<text x="732.4" y="709.1" font-size="8" font-weight="400" text-anchor="start" fill="#222" stroke="none">5</text>
<text x="732.4" y="726.7" font-size="8" font-weight="400" text-anchor="start" fill="#222" stroke="none">6</text>
<text x="732.4" y="742.1" font-size="8" font-weight="400" text-anchor="start" fill="#222" stroke="none">7</text>
<rect x="660.6" y="119" width="25.7" height="113.6" fill="#161616"/>
<rect x="661.8" y="120.5" width="23.3" height="110.6" fill="#1d1d1d"/>
<polygon points="679.98,132.06 675.46,136.58 669.27,134.93 667.62,128.74 672.14,124.22 678.33,125.87" fill="#d4c9ae"/>
<circle cx="673.6" cy="130.70000000000002" r="4.9" fill="#a89a7c"/>
<polygon points="679.98,221.76 675.46,226.28 669.27,224.63 667.62,218.44 672.14,213.92 678.33,215.57" fill="#e6dfbd"/>
<circle cx="673.6" cy="220.4" r="4.9" fill="#cfc59a"/>
<rect x="666.6" y="143.9" width="14.4" height="4.0" fill="#9a9a9a"/>
<rect x="667.5" y="145" width="12.6" height="1.4" fill="#6a6a6a"/>
<rect x="666.4" y="149" width="14.6" height="57.8" fill="#c4c4c4"/>
<rect x="671.5" y="150" width="4.5" height="56" fill="#dedede"/>
<rect x="668.8" y="152.2" width="2.2" height="1.4" fill="#2a2a2a"/>
<rect x="676.4" y="152.2" width="3.4" height="1.4" fill="#2a2a2a"/>
<rect x="668.8" y="156.1" width="2.2" height="1.4" fill="#2a2a2a"/>
<rect x="676.4" y="156.1" width="3.4" height="1.4" fill="#2a2a2a"/>
<rect x="668.8" y="160.1" width="2.2" height="1.4" fill="#2a2a2a"/>
<rect x="676.4" y="160.1" width="3.4" height="1.4" fill="#2a2a2a"/>
<rect x="668.8" y="164.0" width="2.2" height="1.4" fill="#2a2a2a"/>
<rect x="676.4" y="164.0" width="3.4" height="1.4" fill="#2a2a2a"/>
<rect x="668.8" y="168.0" width="2.2" height="1.4" fill="#2a2a2a"/>
<rect x="676.4" y="168.0" width="3.4" height="1.4" fill="#2a2a2a"/>
<rect x="668.8" y="171.9" width="2.2" height="1.4" fill="#2a2a2a"/>
<rect x="676.4" y="171.9" width="3.4" height="1.4" fill="#2a2a2a"/>
<rect x="668.8" y="175.9" width="2.2" height="1.4" fill="#2a2a2a"/>
<rect x="676.4" y="175.9" width="3.4" height="1.4" fill="#2a2a2a"/>
<rect x="668.8" y="179.8" width="2.2" height="1.4" fill="#2a2a2a"/>
<rect x="676.4" y="179.8" width="3.4" height="1.4" fill="#2a2a2a"/>
<rect x="668.8" y="183.8" width="2.2" height="1.4" fill="#2a2a2a"/>
<rect x="676.4" y="183.8" width="3.4" height="1.4" fill="#2a2a2a"/>
<rect x="668.8" y="187.8" width="2.2" height="1.4" fill="#2a2a2a"/>
<rect x="676.4" y="187.8" width="3.4" height="1.4" fill="#2a2a2a"/>
<rect x="668.8" y="191.7" width="2.2" height="1.4" fill="#2a2a2a"/>
<rect x="676.4" y="191.7" width="3.4" height="1.4" fill="#2a2a2a"/>
<rect x="673.2" y="180.3" width="1.3" height="14" fill="#b77a86"/>
<circle cx="673.8" cy="194.8" r="1.3" fill="#6e2a38"/>
<rect x="666.6" y="201" width="14.2" height="2.1" fill="#b06a7a"/>
<rect x="666.6" y="204.5" width="14.2" height="2.3" fill="#9a9a9a"/>
<path d="M677,197 q1.5,-2 3,0 l-1.2,2.5" stroke="#222" stroke-width="0.9" fill="none"/>
<circle cx="665.9" cy="70.4" r="10.3" fill="#141414"/>
<g transform="translate(0,74) skewX(-11)" fill="none" stroke="#fff" stroke-width="1.3" stroke-linejoin="miter">
<path d="M661.2,-12.5 V0 M661.2,-7 H665.3 V6"/>
<path d="M665.3,-7 H670.8 V-0.8 H665.3"/>
</g>
<g transform="translate(0,88.75) skewX(-10.8)" fill="none">
<path d="M648.5,-12.25 V0 M648.5,-5.25 H654.9 V0 M658.5,-5.25 V0 H665.5 M665.5,-5.25 V6.0 H659 M679.25,-5.25 H670.25 V0 H679.25 M679.25,-12.25 V0 M684.75,0 V-5.25 H689.6 V-3.4 M696.7,0 V-5.25 H702 V0 Z M708,-12.25 V0 M711.75,-5.25 V0 M716.7,0 V-5.25 H724.75 V0 M738.8,0 H729.2 V-5.25 H738.8 V-2.5 H730.5" stroke="#111" stroke-width="4.2" stroke-linejoin="round" stroke-linecap="square"/>
<path d="M648.5,-12.25 V0 M648.5,-5.25 H654.9 V0 M658.5,-5.25 V0 H665.5 M665.5,-5.25 V6.0 H659 M679.25,-5.25 H670.25 V0 H679.25 M679.25,-12.25 V0 M684.75,0 V-5.25 H689.6 V-3.4 M696.7,0 V-5.25 H702 V0 Z M708,-12.25 V0 M711.75,-5.25 V0 M716.7,0 V-5.25 H724.75 V0 M738.8,0 H729.2 V-5.25 H738.8 V-2.5 H730.5" stroke="#fff" stroke-width="1.9" stroke-linejoin="round" stroke-linecap="butt"/>
</g>
<rect x="714.5" y="74.5" width="4.2" height="3.0" fill="#111"/>
<circle cx="736" cy="78.5" r="2.0" fill="#bbb" stroke="#555" stroke-width="0.9"/>
<text x="694.0" y="95.9" font-size="4.2" font-weight="700" font-style="italic" fill="#111" font-family="Liberation Sans" textLength="47.5" lengthAdjust="spacing">PRODUCTS</text></svg></div></body></html>
